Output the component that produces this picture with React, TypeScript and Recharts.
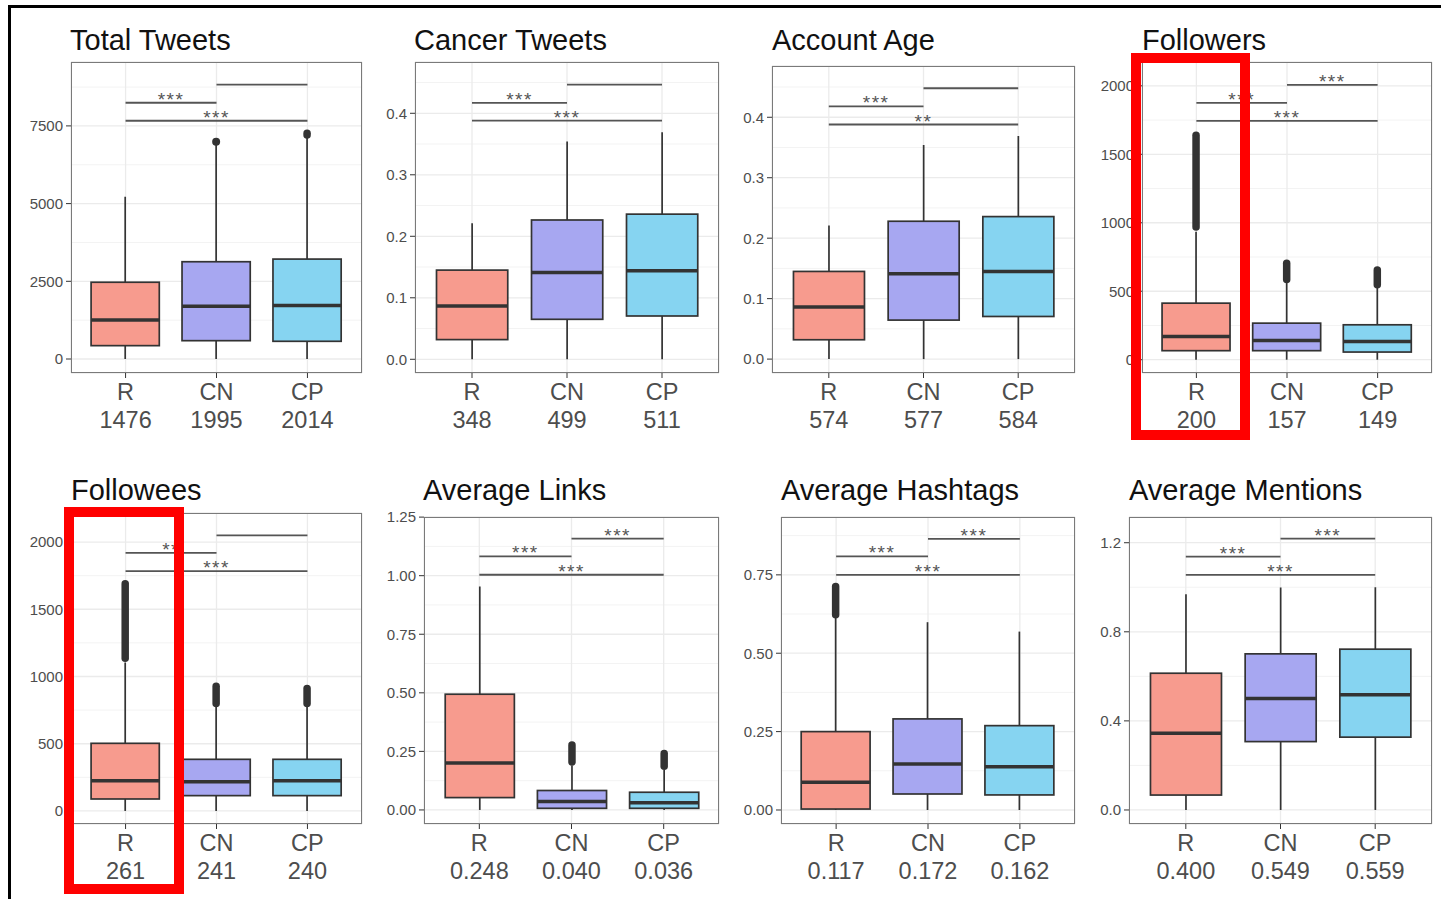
import { ComposedChart, Bar, XAxis, YAxis, CartesianGrid, ReferenceLine } from 'recharts';

const FONT = '"Liberation Sans", Arial, Helvetica, sans-serif';

// groups and panel titles
const groups = ['R', 'CN', 'CP'];
const titles = [
  'Total Tweets', 'Cancer Tweets', 'Account Age', 'Followers',
  'Followees', 'Average Links', 'Average Hashtags', 'Average Mentions',
];
const groupValues = [
  ['1476', '1995', '2014'],
  ['348', '499', '511'],
  ['574', '577', '584'],
  ['200', '157', '149'],
  ['261', '241', '240'],
  ['0.248', '0.040', '0.036'],
  ['0.117', '0.172', '0.162'],
  ['0.400', '0.549', '0.559'],
];

// box statistics, one row per panel, columns R / CN / CP
const whiskerLow = [
  [0, 0, 0], [0, 0, 0], [0, 0, 0], [0, 0, 0],
  [0, 0, 0], [0, 0, 0], [0, 0, 0], [0, 0, 0],
];
const q1 = [
  [430, 590, 570],
  [0.032, 0.065, 0.0704],
  [0.032, 0.0645, 0.0705],
  [66, 66, 56],
  [89, 114, 114],
  [0.0527, 0.007, 0.007],
  [0.003, 0.051, 0.048],
  [0.067, 0.307, 0.327],
];
const median = [
  [1255, 1700, 1725],
  [0.0867, 0.141, 0.144],
  [0.086, 0.141, 0.1448],
  [170, 141, 133],
  [225, 218, 225],
  [0.2, 0.0356, 0.031],
  [0.0884, 0.147, 0.138],
  [0.345, 0.5, 0.517],
];
const q3 = [
  [2470, 3130, 3215],
  [0.145, 0.2265, 0.236],
  [0.145, 0.228, 0.2357],
  [413, 267, 255],
  [503, 384, 384],
  [0.494, 0.083, 0.0755],
  [0.25, 0.2905, 0.269],
  [0.614, 0.701, 0.722],
];
const whiskerHigh = [
  [5220, 6950, 7180],
  [0.221, 0.354, 0.369],
  [0.221, 0.354, 0.369],
  [935, 560, 525],
  [1105, 780, 780],
  [0.954, 0.19, 0.171],
  [0.62, 0.599, 0.569],
  [0.969, 0.999, 1.0],
];
const outlierLow: (number | null)[][] = [
  [null, 6990, 7210],
  [null, null, null],
  [null, null, null],
  [970, 585, 548],
  [1135, 800, 800],
  [null, 0.205, 0.186],
  [0.623, null, null],
  [null, null, null],
];
const outlierHigh: (number | null)[][] = [
  [null, 6990, 7260],
  [null, null, null],
  [null, null, null],
  [1640, 705, 655],
  [1690, 927, 910],
  [null, 0.277, 0.241],
  [0.713, null, null],
  [null, null, null],
];

// significance brackets: R-CN, R-CP, CN-CP
const bracketPairs = [['R', 'CN'], ['R', 'CP'], ['CN', 'CP']];
const bracketY = [
  [8245, 7665, 8830],
  [0.417, 0.388, 0.4466],
  [0.418, 0.388, 0.448],
  [1875, 1744, 2007],
  [1919, 1783, 2050],
  [1.082, 1.004, 1.158],
  [0.809, 0.75, 0.865],
  [1.138, 1.056, 1.218],
];
const bracketLabels = [
  ['***', '***', ''],
  ['***', '***', ''],
  ['***', '**', ''],
  ['***', '***', '***'],
  ['**', '***', ''],
  ['***', '***', '***'],
  ['***', '***', '***'],
  ['***', '***', '***'],
];

// y axes
const yDomains = [
  [-450, 9556],
  [-0.0223, 0.4834],
  [-0.023, 0.4848],
  [-97, 2174],
  [-97, 2216],
  [-0.06, 1.2505],
  [-0.0447, 0.9345],
  [-0.063, 1.3155],
];
const yTicks = [
  [0, 2500, 5000, 7500],
  [0, 0.1, 0.2, 0.3, 0.4],
  [0, 0.1, 0.2, 0.3, 0.4],
  [0, 500, 1000, 1500, 2000],
  [0, 500, 1000, 1500, 2000],
  [0, 0.25, 0.5, 0.75, 1, 1.25],
  [0, 0.25, 0.5, 0.75],
  [0, 0.4, 0.8, 1.2],
];
const yTickLabels = [
  ['0', '2500', '5000', '7500'],
  ['0.0', '0.1', '0.2', '0.3', '0.4'],
  ['0.0', '0.1', '0.2', '0.3', '0.4'],
  ['0', '500', '1000', '1500', '2000'],
  ['0', '500', '1000', '1500', '2000'],
  ['0.00', '0.25', '0.50', '0.75', '1.00', '1.25'],
  ['0.00', '0.25', '0.50', '0.75'],
  ['0.0', '0.4', '0.8', '1.2'],
];

const COLORS = ['#F79B8E', '#A7A7F1', '#86D4F1'];

// plot area of each panel on the page, plus title anchor
const PLOTS = [
  { left: 71, top: 62, right: 362, bottom: 373, tx: 70, ty: 50 },
  { left: 415, top: 62, right: 719, bottom: 373, tx: 414, ty: 50 },
  { left: 772, top: 66, right: 1075, bottom: 373, tx: 772, ty: 50 },
  { left: 1142, top: 62, right: 1432, bottom: 373, tx: 1142, ty: 50 },
  { left: 71, top: 513, right: 362, bottom: 824, tx: 71, ty: 500 },
  { left: 424, top: 517, right: 719, bottom: 824, tx: 423, ty: 500 },
  { left: 781, top: 517, right: 1075, bottom: 824, tx: 781, ty: 500 },
  { left: 1129, top: 517, right: 1432, bottom: 824, tx: 1129, ty: 500 },
];

const YW = 60;
const MT = 10;
const MR = 10;
const XH = 70;

function BoxShape(props: any) {
  const { x, y, width, height, payload } = props;
  const [lo, hi] = payload.range;
  const top = Math.min(y, y + height);
  const h = Math.abs(height);
  const yOf = (v: number) => top + ((hi - v) / (hi - lo)) * h;
  const cx = x + width / 2;
  const stroke = '#333333';
  return (
    <g>
      <line x1={cx} x2={cx} y1={yOf(payload.wHi)} y2={yOf(payload.q3)} stroke={stroke} strokeWidth={1.7} />
      <line x1={cx} x2={cx} y1={yOf(payload.q1)} y2={yOf(payload.wLo)} stroke={stroke} strokeWidth={1.7} />
      <rect
        x={x}
        y={yOf(payload.q3)}
        width={width}
        height={yOf(payload.q1) - yOf(payload.q3)}
        fill={payload.fill}
        stroke={stroke}
        strokeWidth={1.7}
      />
      <line x1={x} x2={x + width} y1={yOf(payload.med)} y2={yOf(payload.med)} stroke={stroke} strokeWidth={3.5} />
      {payload.oLo != null && payload.oHi === payload.oLo && (
        <circle cx={cx} cy={yOf(payload.oLo)} r={4} fill={stroke} />
      )}
      {payload.oLo != null && payload.oHi !== payload.oLo && (
        <line
          x1={cx}
          x2={cx}
          y1={yOf(payload.oLo)}
          y2={yOf(payload.oHi)}
          stroke={stroke}
          strokeWidth={7.5}
          strokeLinecap="round"
        />
      )}
    </g>
  );
}

function BoxPanel({ idx }: { idx: number }) {
  const g = PLOTS[idx];
  const plotW = g.right - g.left;
  const plotH = g.bottom - g.top;
  const band = plotW / 3.2;
  const pad = plotW / 32;
  const dom = yDomains[idx];
  const ticks = yTicks[idx];
  const step = ticks[1] - ticks[0];
  const minor = [...ticks.map(t => t - step / 2), ticks[ticks.length - 1] + step / 2]
    .filter(v => v > dom[0] && v < dom[1]);

  const data = groups.map((grp, i) => ({
    group: grp,
    range: [whiskerLow[idx][i], whiskerHigh[idx][i]],
    wLo: whiskerLow[idx][i],
    wHi: whiskerHigh[idx][i],
    q1: q1[idx][i],
    med: median[idx][i],
    q3: q3[idx][i],
    oLo: outlierLow[idx][i],
    oHi: outlierHigh[idx][i],
    fill: COLORS[i],
  }));

  const labels = groupValues[idx];
  const renderXTick = (p: any) => (
    <text x={p.x} y={p.y} textAnchor="middle" fill="#4d4d4d" fontSize={23.5} fontFamily={FONT}>
      <tspan x={p.x} dy={20}>{p.payload.value}</tspan>
      <tspan x={p.x} dy={28}>{labels[p.index]}</tspan>
    </text>
  );

  return (
    <>
      <div style={{ position: 'absolute', left: g.left - YW, top: g.top - MT }}>
        <ComposedChart
          width={YW + plotW + MR}
          height={MT + plotH + XH}
          data={data}
          margin={{ top: MT, right: MR, bottom: 0, left: 0 }}
        >
          <CartesianGrid horizontalValues={minor} vertical={false} stroke="#F3F3F3" strokeWidth={1} />
          <CartesianGrid stroke="#EBEBEB" strokeWidth={1.3} />
          <XAxis
            dataKey="group"
            padding={{ left: pad, right: pad }}
            height={XH}
            axisLine={false}
            tickLine={{ stroke: '#333333' }}
            tickSize={5}
            interval={0}
            tick={renderXTick}
          />
          <YAxis
            type="number"
            domain={dom}
            ticks={ticks}
            allowDataOverflow
            interval={0}
            width={YW}
            axisLine={false}
            tickLine={{ stroke: '#333333' }}
            tickSize={5}
            tickMargin={3}
            tick={{ fill: '#4d4d4d', fontSize: 15, fontFamily: FONT }}
            tickFormatter={(v: number) => yTickLabels[idx][ticks.findIndex(t => Math.abs(t - v) < 1e-9)]}
          />
          <Bar dataKey="range" barSize={band * 0.75} isAnimationActive={false} shape={BoxShape} />
          {bracketPairs.map((pair, k) => (
            <ReferenceLine
              key={k}
              segment={[{ x: pair[0], y: bracketY[idx][k] }, { x: pair[1], y: bracketY[idx][k] }]}
              stroke="#555555"
              strokeWidth={1.8}
              label={
                bracketLabels[idx][k]
                  ? {
                      value: bracketLabels[idx][k],
                      position: 'top',
                      offset: -3,
                      fill: '#555555',
                      fontSize: 19,
                      letterSpacing: 1.5,
                      fontFamily: FONT,
                    }
                  : undefined
              }
            />
          ))}
        </ComposedChart>
      </div>
      <div
        style={{
          position: 'absolute',
          left: g.left,
          top: g.top,
          width: plotW,
          height: plotH,
          border: '1.5px solid #7a7a7a',
          boxSizing: 'border-box',
          pointerEvents: 'none',
        }}
      />
      <div
        style={{
          position: 'absolute',
          left: g.tx,
          top: g.ty - 24.5,
          fontFamily: FONT,
          fontSize: 29,
          lineHeight: '29px',
          color: '#111',
          whiteSpace: 'nowrap',
        }}
      >
        {titles[idx]}
      </div>
    </>
  );
}

export default function App() {
  return (
    <div style={{ position: 'absolute', left: 0, top: 0, width: 1441, height: 899, background: '#fff', overflow: 'hidden' }}>
      {titles.map((_t, i) => (
        <BoxPanel key={i} idx={i} />
      ))}
      {/* frame */}
      <div style={{ position: 'absolute', left: 8, top: 5, width: 1433, height: 3, background: '#000' }} />
      <div style={{ position: 'absolute', left: 8, top: 5, width: 3, height: 894, background: '#000' }} />
      {/* highlight boxes */}
      <div style={{ position: 'absolute', left: 1131, top: 53, width: 119, height: 387, border: '10px solid #FF0000', boxSizing: 'border-box' }} />
      <div style={{ position: 'absolute', left: 64, top: 507, width: 120, height: 387, border: '10px solid #FF0000', boxSizing: 'border-box' }} />
    </div>
  );
}
